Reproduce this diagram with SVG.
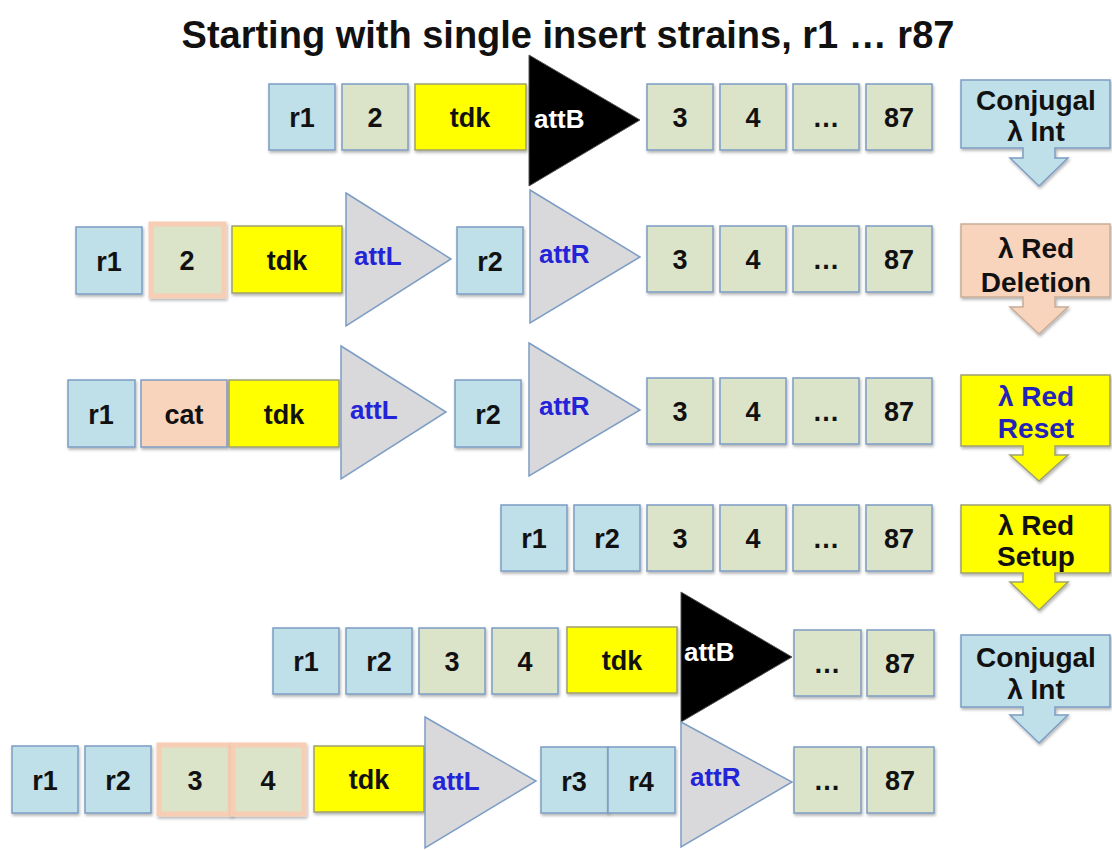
<svg xmlns="http://www.w3.org/2000/svg" width="1112" height="850" viewBox="0 0 1112 850">
<defs>
<filter id="sh" x="-10%" y="-10%" width="130%" height="130%"><feDropShadow dx="1" dy="2" stdDeviation="1.5" flood-color="#000" flood-opacity="0.3"/></filter>
<style>
text{font-family:"Liberation Sans",Arial,sans-serif;font-weight:bold;text-anchor:middle}
.lbl{font-size:27px;fill:#111}
.att{font-size:26px;fill:#2323d8;text-anchor:start}
.attb{font-size:26px;fill:#fff;text-anchor:start}
.cl{font-size:28px;fill:#111}
.b{fill:#bfdfe9;stroke:#7d9dc4;stroke-width:1.5;filter:url(#sh)}
.g{fill:#dbe3c8;stroke:#7d9dc4;stroke-width:1.5;filter:url(#sh)}
.gp{fill:#dbe3c8;stroke:#f7cdb4;stroke-width:5;filter:url(#sh)}
.y{fill:#ffff00;stroke:#9ea070;stroke-width:1.5;filter:url(#sh)}
.p{fill:#f9d4bd;stroke:#7d9dc4;stroke-width:1.5;filter:url(#sh)}
.tri{fill:#d9d9dc;stroke:#7d9dc4;stroke-width:1.5}
.blk{fill:#000;stroke:#555;stroke-width:1}
.cb{fill:#bfdfe9;stroke:#7d9dc4;stroke-width:1.5;filter:url(#sh)}
.cp{fill:#f9d4bd;stroke:#c8ad98;stroke-width:1.5;filter:url(#sh)}
.cy{fill:#ffff00;stroke:#9ea070;stroke-width:1.5;filter:url(#sh)}
</style>
</defs>
<rect width="1112" height="850" fill="#fff"/>
<text x="568" y="48" style="font-size:38px;fill:#111">Starting with single insert strains, r1 … r87</text>

<g id="row1">
<rect class="b" x="269" y="84" width="66" height="66"/><text class="lbl" x="302" y="127">r1</text>
<rect class="g" x="342" y="84" width="66" height="66"/><text class="lbl" x="375" y="127">2</text>
<rect class="y" x="415" y="84" width="111" height="66"/><text class="lbl" x="470" y="127">tdk</text>
<polygon class="blk" points="529,55 640,120 529,186"/><text class="attb" x="534" y="128">attB</text>
<rect class="g" x="647" y="84" width="66" height="66"/><text class="lbl" x="680" y="127">3</text>
<rect class="g" x="720" y="84" width="66" height="66"/><text class="lbl" x="753" y="127">4</text>
<rect class="g" x="793" y="84" width="66" height="66"/><text class="lbl" x="826" y="127">…</text>
<rect class="g" x="866" y="84" width="66" height="66"/><text class="lbl" x="899" y="127">87</text>
</g>

<g id="row2">
<rect class="b" x="76" y="227" width="66" height="67"/><text class="lbl" x="109" y="271">r1</text>
<rect class="gp" x="151" y="224" width="73" height="72"/><text class="lbl" x="187" y="270">2</text>
<rect class="y" x="232" y="226" width="110" height="67"/><text class="lbl" x="287" y="270">tdk</text>
<polygon class="tri" points="346,193 451,259 346,326"/><text class="att" x="354" y="265">attL</text>
<rect class="b" x="457" y="227" width="66" height="67"/><text class="lbl" x="490" y="271">r2</text>
<polygon class="tri" points="530,190 640,257 530,323"/><text class="att" x="539" y="263">attR</text>
<rect class="g" x="647" y="226" width="66" height="66"/><text class="lbl" x="680" y="269">3</text>
<rect class="g" x="720" y="226" width="66" height="66"/><text class="lbl" x="753" y="269">4</text>
<rect class="g" x="793" y="226" width="66" height="66"/><text class="lbl" x="826" y="269">…</text>
<rect class="g" x="866" y="226" width="66" height="66"/><text class="lbl" x="899" y="269">87</text>
</g>

<g id="row3">
<rect class="b" x="68" y="380" width="67" height="67"/><text class="lbl" x="101" y="424">r1</text>
<rect class="p" x="141" y="380" width="86" height="67"/><text class="lbl" x="184" y="424">cat</text>
<rect class="y" x="229" y="380" width="110" height="67"/><text class="lbl" x="284" y="424">tdk</text>
<polygon class="tri" points="341,346 446,412 341,479"/><text class="att" x="350" y="419">attL</text>
<rect class="b" x="455" y="380" width="66" height="67"/><text class="lbl" x="488" y="424">r2</text>
<polygon class="tri" points="529,343 640,410 529,476"/><text class="att" x="539" y="415">attR</text>
<rect class="g" x="647" y="378" width="66" height="66"/><text class="lbl" x="680" y="421">3</text>
<rect class="g" x="720" y="378" width="66" height="66"/><text class="lbl" x="753" y="421">4</text>
<rect class="g" x="793" y="378" width="66" height="66"/><text class="lbl" x="826" y="421">…</text>
<rect class="g" x="866" y="378" width="66" height="66"/><text class="lbl" x="899" y="421">87</text>
</g>

<g id="row4">
<rect class="b" x="501" y="505" width="66" height="66"/><text class="lbl" x="534" y="548">r1</text>
<rect class="b" x="574" y="505" width="66" height="66"/><text class="lbl" x="607" y="548">r2</text>
<rect class="g" x="647" y="505" width="66" height="66"/><text class="lbl" x="680" y="548">3</text>
<rect class="g" x="720" y="505" width="66" height="66"/><text class="lbl" x="753" y="548">4</text>
<rect class="g" x="793" y="505" width="66" height="66"/><text class="lbl" x="826" y="548">…</text>
<rect class="g" x="866" y="505" width="66" height="66"/><text class="lbl" x="899" y="548">87</text>
</g>

<g id="row5">
<rect class="b" x="273" y="628" width="66" height="66"/><text class="lbl" x="306" y="671">r1</text>
<rect class="b" x="346" y="628" width="66" height="66"/><text class="lbl" x="379" y="671">r2</text>
<rect class="g" x="419" y="628" width="66" height="66"/><text class="lbl" x="452" y="671">3</text>
<rect class="g" x="492" y="628" width="66" height="66"/><text class="lbl" x="525" y="671">4</text>
<rect class="y" x="567" y="627" width="110" height="66"/><text class="lbl" x="622" y="670">tdk</text>
<polygon class="blk" points="681,592 792,657 681,722"/><text class="attb" x="684" y="661">attB</text>
<rect class="g" x="794" y="630" width="67" height="66"/><text class="lbl" x="827" y="673">…</text>
<rect class="g" x="867" y="630" width="67" height="66"/><text class="lbl" x="900" y="673">87</text>
</g>

<g id="row6">
<rect class="b" x="12" y="746" width="66" height="67"/><text class="lbl" x="45" y="790">r1</text>
<rect class="b" x="85" y="746" width="66" height="67"/><text class="lbl" x="118" y="790">r2</text>
<rect class="gp" x="159" y="745" width="71" height="69"/><text class="lbl" x="195" y="790">3</text>
<rect class="gp" x="233" y="745" width="71" height="69"/><text class="lbl" x="268" y="790">4</text>
<rect class="y" x="314" y="746" width="110" height="66"/><text class="lbl" x="369" y="789">tdk</text>
<polygon class="tri" points="425,717 536,781 425,848"/><text class="att" x="432" y="790">attL</text>
<rect class="b" x="541" y="747" width="67" height="66"/><text class="lbl" x="574" y="791">r3</text>
<rect class="b" x="608" y="747" width="67" height="66"/><text class="lbl" x="641" y="791">r4</text>
<polygon class="tri" points="681,722 792,782 681,847"/><text class="att" x="690" y="786">attR</text>
<rect class="g" x="794" y="747" width="67" height="66"/><text class="lbl" x="827" y="790">…</text>
<rect class="g" x="867" y="747" width="67" height="66"/><text class="lbl" x="900" y="790">87</text>
</g>

<g id="step1">
<path class="cb" d="M961,80 H1110 V148 H1055 V158 H1068 L1039,186 L1010,158 H1023 V148 H961 Z"/>
<text class="cl" x="1036" y="110">Conjugal</text><text class="cl" x="1036" y="141">λ Int</text>
</g>
<g id="step2">
<path class="cp" d="M961,224 H1110 V297 H1055 V307 H1068 L1039,334 L1010,307 H1023 V297 H961 Z"/>
<text class="cl" x="1036" y="258">λ Red</text><text class="cl" x="1036" y="292">Deletion</text>
</g>
<g id="step3">
<path class="cy" d="M961,375 H1110 V446 H1055 V455 H1068 L1039,481 L1010,455 H1023 V446 H961 Z"/>
<text class="cl" x="1036" y="406" style="fill:#2323b8">λ Red</text><text class="cl" x="1036" y="438" style="fill:#2323b8">Reset</text>
</g>
<g id="step4">
<path class="cy" d="M961,505 H1110 V573 H1055 V582 H1068 L1039,610 L1010,582 H1023 V573 H961 Z"/>
<text class="cl" x="1036" y="535">λ Red</text><text class="cl" x="1036" y="566">Setup</text>
</g>
<g id="step5">
<path class="cb" d="M961,635 H1110 V707 H1055 V715 H1068 L1039,743 L1010,715 H1023 V707 H961 Z"/>
<text class="cl" x="1036" y="667">Conjugal</text><text class="cl" x="1036" y="699">λ Int</text>
</g>
<g id="connectors"/>
</svg>
